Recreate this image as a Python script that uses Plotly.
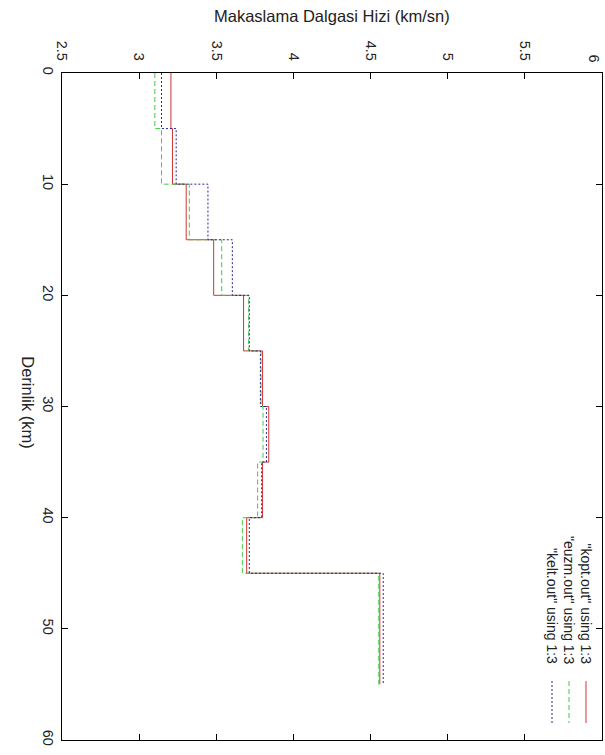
import plotly.graph_objects as go

# Layer boundaries (km)
layer_top = [0, 5, 10, 15, 20, 25, 30, 35, 40, 45]
last_bottom = 55

# Shear-wave velocity (km/s) per layer
kopt = [3.206, 3.216, 3.305, 3.483, 3.677, 3.800, 3.840, 3.800, 3.697, 4.560]
euzm = [3.102, 3.145, 3.325, 3.535, 3.710, 3.790, 3.803, 3.768, 3.669, 4.553]
kelt = [3.145, 3.240, 3.446, 3.604, 3.714, 3.786, 3.825, 3.794, 3.714, 4.582]

series_names = ['"kopt.out" using 1:3', '"euzm.out" using 1:3', '"kelt.out" using 1:3']
series_vals = [kopt, euzm, kelt]
colors = ["#d03535", "#3ccf3c", "#25258f"]
dashes = ["solid", "5px,3px", "2px,2px"]

vel_ticks = [2.5, 3, 3.5, 4, 4.5, 5, 5.5, 6]
vel_labels = ["2.5", "3", "3.5", "4", "4.5", "5", "5.5", "6"]
depth_ticks = [0, 10, 20, 30, 40, 50, 60]
depth_labels = ["0", "10", "20", "30", "40", "50", "60"]

FONT = "Liberation Sans, Arial, sans-serif"

fig = go.Figure()
for name, vals, c, d in zip(series_names, series_vals, colors, dashes):
    xs = list(vals) + [vals[-1]]
    ys = list(layer_top) + [last_bottom]
    fig.add_trace(go.Scatter(x=xs, y=ys, mode="lines", name=name,
                             line=dict(color=c, width=1, dash=d, shape="vh"),
                             showlegend=False))

# plot-area pixel geometry
L, R, T, B = 62, 602, 72.5, 740
W, H = 605, 755

def px(xp):
    return (xp - L) / (R - L)

def py(yp):
    return (B - yp) / (B - T)

TICKFONT = dict(family=FONT, size=14.5, color="#222")
axis_common = dict(showline=True, linecolor="black", linewidth=1, mirror="ticks",
                   ticks="inside", ticklen=6, tickcolor="black", tickwidth=1,
                   showgrid=False, zeroline=False, tickfont=TICKFONT)

# last velocity label sits at the page edge: drawn as an annotation so it stays inside
fig.update_xaxes(range=[2.5, 6], side="top", tickvals=vel_ticks,
                 ticktext=vel_labels[:-1] + [""],
                 tickangle=90, ticklabelstandoff=6, **axis_common)
fig.update_yaxes(range=[60, 0], tickvals=depth_ticks, ticktext=depth_labels,
                 tickangle=90, ticklabelstandoff=1, **axis_common)

annotations = [
    dict(text="Makaslama Dalgasi Hizi (km/sn)", xref="paper", yref="paper",
         x=px(332), y=py(15), xanchor="center", yanchor="middle", showarrow=False,
         font=dict(family=FONT, size=16.5, color="#222")),
    dict(text="Derinlik (km)", xref="paper", yref="paper",
         x=px(28), y=py(402), xanchor="center", yanchor="middle", showarrow=False,
         textangle=90, font=dict(family=FONT, size=16.5, color="#222")),
    dict(text=vel_labels[-1], xref="paper", yref="paper",
         x=px(604), y=py(64), xanchor="right", yanchor="bottom", showarrow=False,
         textangle=90, font=TICKFONT),
]
shapes = []
leg_x = [586, 569, 552]
for name, c, d, lx in zip(series_names, colors, dashes, leg_x):
    annotations.append(dict(text=name, xref="paper", yref="paper", x=px(lx), y=py(666),
                            xanchor="center", yanchor="bottom", showarrow=False,
                            textangle=90, font=dict(family=FONT, size=14, color="#222")))
    shapes.append(dict(type="line", xref="paper", yref="paper", x0=px(lx), x1=px(lx),
                       y0=py(681), y1=py(723), line=dict(color=c, width=1, dash=d)))

fig.update_layout(width=W, height=H,
                  margin=dict(l=L, r=W - R, t=T, b=H - B, pad=0),
                  paper_bgcolor="white", plot_bgcolor="white",
                  annotations=annotations, shapes=shapes,
                  font=dict(family=FONT, color="#222"))

fig.write_html("out.html", config={"displayModeBar": False},
               post_script="document.body.style.margin='0';document.body.style.overflow='hidden';")
